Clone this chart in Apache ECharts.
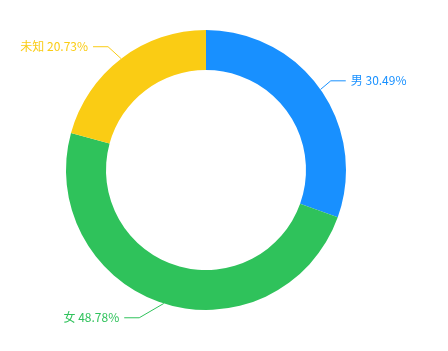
<!DOCTYPE html>
<html>
<head>
<meta charset="utf-8">
<script src="https://cdn.jsdelivr.net/npm/echarts@6/dist/echarts.min.js"></script>
<style>
html, body { margin: 0; padding: 0; background: #fff; }
#main { width: 448px; height: 351px; }
</style>
</head>
<body>
<div id="main"></div>
<script>
var names = ['男', '女', '未知'];
var counts = [25, 40, 17];
var colors = ['#1890FF', '#2FC25B', '#FACC14'];
// horizontal nudge of each label (elbow + text), px
var labelShift = [-2, -20, -4];

var pieData = [];
for (var i = 0; i < names.length; i++) {
    pieData.push({
        name: names[i],
        value: counts[i],
        itemStyle: { color: colors[i] },
        label: { color: colors[i] }
    });
}

var myChart = echarts.init(document.getElementById('main'));
myChart.setOption({
    animation: false,
    series: [
        {
            type: 'pie',
            center: [206, 170],
            radius: [100, 140],
            startAngle: 90,
            data: pieData,
            label: {
                show: true,
                formatter: '{b} {d}%',
                fontSize: 12,
                fontFamily: '"Noto Sans CJK SC", sans-serif'
            },
            labelLine: {
                length: 15,
                length2: 15
            },
            labelLayout: function (params) {
                var s = labelShift[params.dataIndex] || 0;
                var p = params.labelLinePoints;
                if (!p) return {};
                return {
                    dx: s,
                    labelLinePoints: [
                        [p[0][0], p[0][1]],
                        [p[1][0] + s, p[1][1]],
                        [p[2][0] + s, p[2][1]]
                    ]
                };
            }
        }
    ]
});
</script>
</body>
</html>
